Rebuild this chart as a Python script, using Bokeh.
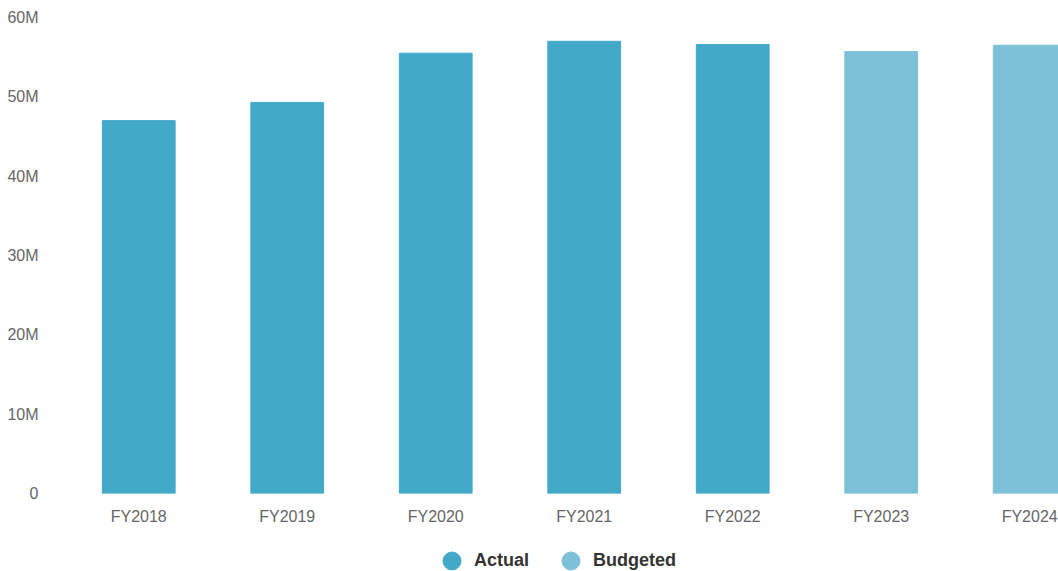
from bokeh.plotting import figure
from bokeh.layouts import column
from bokeh.models import Range1d, FixedTicker, Legend, LegendItem, ColumnDataSource
from bokeh.embed import file_html
from bokeh.resources import INLINE

categories = ["FY2018", "FY2019", "FY2020", "FY2021", "FY2022", "FY2023", "FY2024"]
values = [47.0e6, 49.3e6, 55.5e6, 57.0e6, 56.6e6, 55.7e6, 56.5e6]
kinds = ["Actual", "Actual", "Actual", "Actual", "Actual", "Budgeted", "Budgeted"]
y_ticks = [0, 10e6, 20e6, 30e6, 40e6, 50e6, 60e6]
y_tick_labels = ["0", "10M", "20M", "30M", "40M", "50M", "60M"]

colors = {"Actual": "#42a9c9", "Budgeted": "#7cc1d8"}
FONT = "Liberation Sans"

xs = [i + 0.5 for i in range(len(categories))]
src = ColumnDataSource(dict(x=xs, top=values, color=[colors[k] for k in kinds]))

p = figure(width=1058, height=536, output_backend="svg", toolbar_location=None,
           x_range=Range1d(0, 6.694), y_range=Range1d(0, 60e6),
           min_border_left=64, min_border_right=0, min_border_top=17, min_border_bottom=43)
p.outline_line_color = None
p.grid.visible = False
p.background_fill_color = "white"
p.border_fill_color = "white"

p.vbar(x="x", top="top", width=0.49, color="color", source=src)

p.xaxis.ticker = FixedTicker(ticks=xs)
p.xaxis.major_label_overrides = {x: c for x, c in zip(xs, categories)}
p.yaxis.ticker = FixedTicker(ticks=y_ticks)
p.yaxis.major_label_overrides = {t: l for t, l in zip(y_ticks, y_tick_labels)}
for ax in (p.xaxis[0], p.yaxis[0]):
    ax.axis_line_color = None
    ax.major_tick_line_color = None
    ax.minor_tick_line_color = None
    ax.major_label_text_font = FONT
    ax.major_label_text_font_size = "16px"
    ax.major_label_text_color = "#666666"
p.yaxis.major_label_standoff = 20
p.xaxis.major_label_standoff = 8

# legend strip
lg = figure(width=1058, height=35, output_backend="svg", toolbar_location=None,
            x_range=Range1d(0, 1), y_range=Range1d(0, 1),
            min_border_left=0, min_border_right=0, min_border_top=0, min_border_bottom=0)
lg.axis.visible = False
lg.grid.visible = False
lg.outline_line_color = None
r_a = lg.scatter(x=[-10], y=[-10], marker="circle", size=18, color=colors["Actual"])
r_b = lg.scatter(x=[-10], y=[-10], marker="circle", size=18, color=colors["Budgeted"])
legend = Legend(items=[LegendItem(label="Actual", renderers=[r_a]),
                       LegendItem(label="Budgeted", renderers=[r_b])],
                orientation="horizontal", location=(365, -12),
                label_text_font=FONT, label_text_font_size="18px",
                label_text_font_style="bold", label_text_color="#333333",
                glyph_width=45, glyph_height=45, label_standoff=-9, spacing=19,
                padding=0, margin=0, border_line_color=None,
                background_fill_alpha=0)
lg.add_layout(legend)

layout = column(p, lg, spacing=0)
open("out.html", "w").write(file_html(layout, INLINE))
